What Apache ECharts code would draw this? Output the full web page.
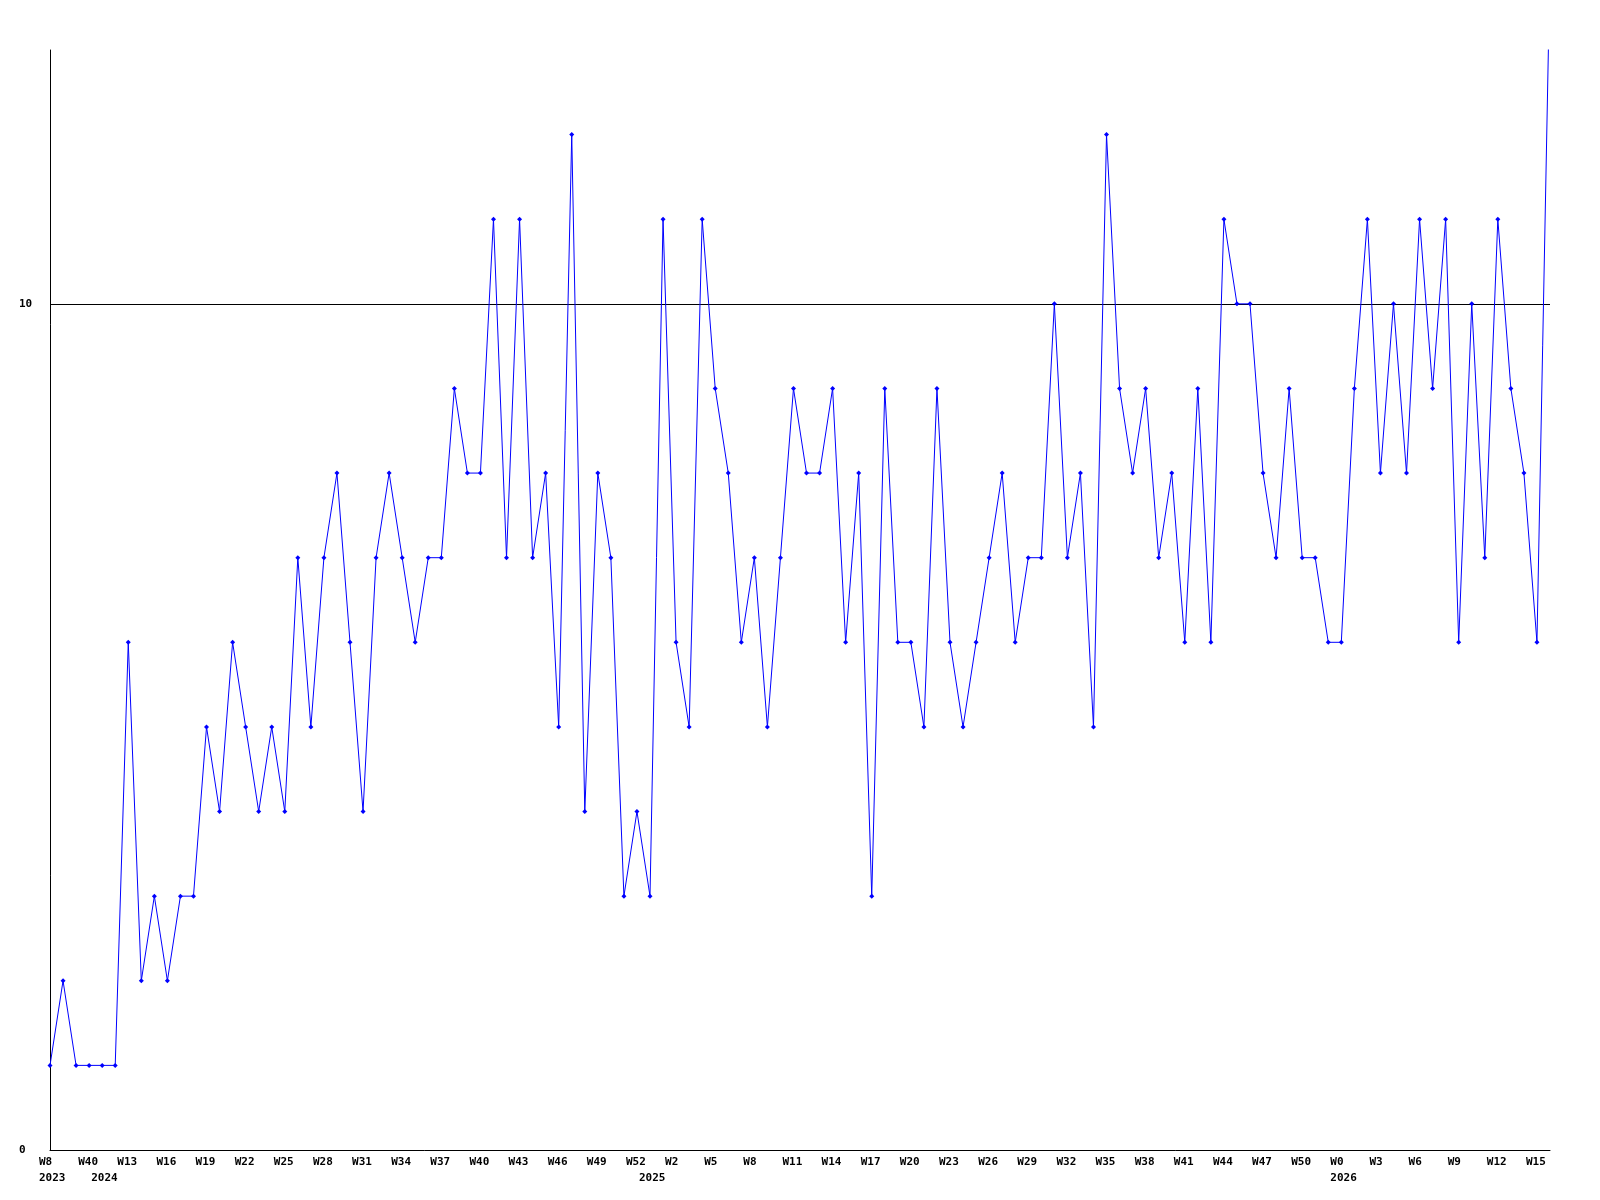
<!DOCTYPE html>
<html>
<head>
<meta charset="utf-8">
<script src="https://cdn.jsdelivr.net/npm/echarts@6/dist/echarts.min.js"></script>
<style>
html,body{margin:0;padding:0;background:#fff;}
#chart{width:1600px;height:1200px;}
</style>
</head>
<body>
<div id="chart"></div>
<script>
// Tick labels shown under every third week
const tickLabels = ['W8','W40','W13','W16','W19','W22','W25','W28','W31','W34','W37','W40','W43','W46','W49','W52',
  'W2','W5','W8','W11','W14','W17','W20','W23','W26','W29','W32','W35','W38','W41','W44','W47','W50',
  'W0','W3','W6','W9','W12','W15'];
// Year labels (category index -> year)
const yearLabels = {0:'2023', 4:'2024', 46:'2025', 99:'2026'};
// Weekly values
const values = [
  1,2,1,1,1,1,6,2,3,2,
  3,3,5,4,6,5,4,5,4,7,
  5,7,8,6,4,7,8,7,6,7,
  7,9,8,8,11,7,11,7,8,5,
  12,4,8,7,3,4,3,11,6,5,
  11,9,8,6,7,5,7,9,8,8,
  9,6,8,3,9,6,6,5,9,6,
  5,6,7,8,6,7,7,10,7,8,
  5,12,9,8,9,7,8,6,9,6,
  11,10,10,8,7,9,7,7,6,6,
  9,11,8,10,8,11,9,11,6,10,
  7,11,9,8,6,14
];
const refLine = 10;

const categories = values.map((_, i) => (i % 3 === 0 ? (tickLabels[i / 3] || '') : '') + '#' + i);

const chart = echarts.init(document.getElementById('chart'), null, {renderer: 'canvas'});
const font = '"DejaVu Sans Mono", monospace';
chart.setOption({
  animation: false,
  backgroundColor: '#ffffff',
  grid: {left: 50, right: 50, top: 50, bottom: 50, containLabel: false, outerBoundsMode: 'none'},
  xAxis: {
    type: 'category',
    data: categories,
    boundaryGap: false,
    axisLine: {show: true, lineStyle: {color: '#000', width: 1}},
    axisTick: {show: false},
    splitLine: {show: false},
    axisLabel: {
      interval: 0,
      margin: 4,
      align: 'center',
      formatter: function (value, index) {
        const w = index % 3 === 0 ? (tickLabels[index / 3] || '') : '';
        const y = yearLabels[index];
        if (!w && !y) return '';
        let s = '{a|' + (w || ' ') + '}';
        if (y) s += '\n{a|' + y + '}';
        return s;
      },
      rich: {
        a: {width: 22, align: 'left', fontFamily: font, fontWeight: 'bold', fontSize: 11, lineHeight: 16, color: '#000'}
      }
    }
  },
  yAxis: {
    type: 'value',
    min: 0,
    max: 13,
    interval: 10,
    axisLine: {show: true, lineStyle: {color: '#000', width: 1}},
    axisTick: {show: false},
    splitLine: {show: false},
    axisLabel: {
      margin: 31,
      align: 'left',
      fontFamily: font,
      fontWeight: 'bold',
      fontSize: 11,
      color: '#000',
      formatter: function (v) { return (v === 0 || v === 10) ? String(v) : ''; }
    }
  },
  series: [{
    type: 'line',
    data: [],
    z: 1,
    silent: true,
    markLine: {
      silent: true,
      z: 1,
      symbol: 'none',
      label: {show: false},
      lineStyle: {color: '#000', width: 1, type: 'solid'},
      data: [{yAxis: refLine}]
    }
  }, {
    type: 'line',
    data: values,
    z: 5,
    clip: true,
    symbol: 'diamond',
    symbolSize: 5,
    showAllSymbol: true,
    lineStyle: {color: '#0000ff', width: 1},
    itemStyle: {color: '#0000ff'}
  }]
});
</script>
</body>
</html>
